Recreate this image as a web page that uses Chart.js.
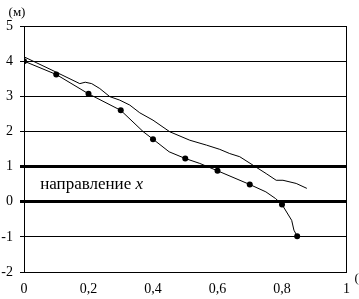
<!DOCTYPE html>
<html>
<head>
<meta charset="utf-8">
<script src="https://cdn.jsdelivr.net/npm/chart.js@4"></script>
<style>
  html, body { margin: 0; padding: 0; background: #fff; }
  #wrap { position: relative; width: 359px; height: 299px; }
</style>
</head>
<body>
<div id="wrap"><canvas id="chart" width="359" height="299"></canvas></div>
<script>
// series with dots (measured points + a few bends between them)
const dotX = [0, 0.1, 0.2, 0.3, 0.37, 0.4, 0.45, 0.5, 0.545, 0.6, 0.7, 0.75, 0.78, 0.8, 0.83, 0.837, 0.847];
const dotY = [4.0, 3.62, 3.07, 2.6, 1.99, 1.78, 1.42, 1.23, 1.09, 0.88, 0.49, 0.28, 0.09, -0.08, -0.53, -0.81, -0.98];
const dotShown = [1, 1, 1, 1, 0, 1, 0, 1, 0, 1, 1, 0, 0, 1, 0, 0, 1];

// plain line without markers
const lineX = [0.003, 0.09, 0.173, 0.19, 0.21, 0.235, 0.266, 0.297, 0.328, 0.359, 0.4, 0.452, 0.514, 0.566, 0.607, 0.638, 0.669, 0.71, 0.751, 0.782, 0.803, 0.844, 0.877];
const lineY = [4.11, 3.73, 3.36, 3.4, 3.36, 3.22, 2.99, 2.89, 2.75, 2.53, 2.32, 1.99, 1.75, 1.61, 1.49, 1.37, 1.28, 1.04, 0.8, 0.61, 0.61, 0.52, 0.38];

const xTicks = [0, 0.2, 0.4, 0.6, 0.8, 1];
const yUnit = "(м)";
const noteText = "направление ";
const noteVar = "x";

const serif = "'Liberation Serif', 'DejaVu Serif', serif";

const toPoints = (xs, ys) => xs.map((x, i) => ({ x: x, y: ys[i] }));

const notes = {
  id: "notes",
  afterDraw(chart) {
    const c = chart.ctx;
    const area = chart.chartArea;
    const xs = chart.scales.x;
    const ys = chart.scales.y;
    c.save();
    c.fillStyle = "#000";
    c.textBaseline = "middle";
    c.font = "13px " + serif;
    c.textAlign = "center";
    c.fillText(yUnit, area.left - 7, area.top - 13);
    c.textAlign = "left";
    c.fillText(yUnit, area.right + 8, area.bottom + 7);
    c.font = "17px " + serif;
    const tx = xs.getPixelForValue(0.05);
    const ty = ys.getPixelForValue(0.5);
    c.fillText(noteText, tx, ty);
    const w = c.measureText(noteText).width;
    c.font = "italic 17px " + serif;
    c.fillText(noteVar, tx + w, ty);
    c.restore();
  },
};

const config = {
  type: "line",
  data: {
    datasets: [
      {
        data: toPoints(dotX, dotY),
        borderColor: "#000",
        backgroundColor: "#000",
        borderWidth: 1,
        pointRadius: dotShown.map((s) => (s ? 3 : 0)),
        pointBorderWidth: 0,
        tension: 0,
      },
      {
        data: toPoints(lineX, lineY),
        borderColor: "#000",
        borderWidth: 1,
        pointRadius: 0,
        tension: 0,
      },
    ],
  },
  options: {
    responsive: false,
    animation: false,
    devicePixelRatio: 1,
    layout: { padding: { top: 26, right: 12, left: 0, bottom: 0 } },
    plugins: {
      legend: { display: false },
      tooltip: { enabled: false },
    },
    scales: {
      x: {
        type: "linear",
        min: 0,
        max: 1,
        afterBuildTicks: (s) => {
          s.ticks = xTicks.map((v) => ({ value: v }));
        },
        afterFit: (s) => {
          s.height = 27;
        },
        grid: {
          drawTicks: false,
          color: (ctx) => (ctx.tick && ctx.tick.value === 1 ? "#000" : "rgba(0,0,0,0)"),
          lineWidth: 1,
        },
        border: { display: true, color: "#000", width: 1 },
        ticks: {
          color: "#000",
          padding: 9,
          maxRotation: 0,
          font: { family: serif, size: 14 },
          callback: (v) => String(Math.round(v * 10) / 10).replace(".", ","),
        },
      },
      y: {
        min: -2,
        max: 5,
        afterFit: (s) => {
          s.width = 24;
        },
        grid: {
          color: "#000",
          tickLength: 4,
          lineWidth: (ctx) => (ctx.tick && (ctx.tick.value === 0 || ctx.tick.value === 1) ? 3 : 1),
        },
        border: { display: true, color: "#000", width: 1 },
        ticks: {
          color: "#000",
          stepSize: 1,
          padding: 7,
          font: { family: serif, size: 14 },
        },
      },
    },
  },
  plugins: [notes],
};

const ctx = document.getElementById("chart").getContext("2d");
const chart = new Chart(ctx, config);
</script>
</body>
</html>
